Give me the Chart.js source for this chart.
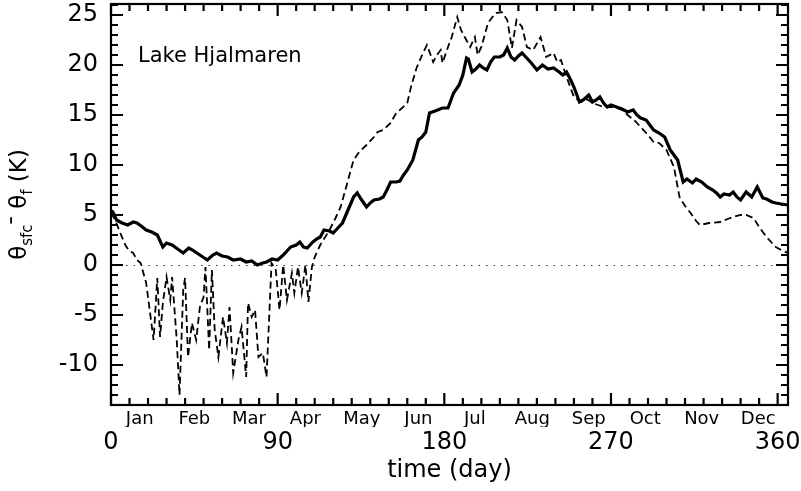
<!DOCTYPE html>
<html>
<head>
<meta charset="utf-8">
<script src="https://cdn.jsdelivr.net/npm/chart.js@4/dist/chart.umd.min.js"></script>
<style>
  html, body { margin: 0; padding: 0; background: #fff; }
  #wrap { width: 801px; height: 491px; position: relative; }
</style>
</head>
<body>
<div id="wrap"><canvas id="chart"></canvas></div>
<script>
const FONT = "'DejaVu Sans', sans-serif";

// surface minus freezing temperature (thick solid line)
const solidDays = [0, 1, 3, 6, 9, 12, 14, 17, 19, 22, 25, 28, 30, 33, 36, 39, 42, 44, 48, 52, 55, 57, 60, 63, 66, 70, 73, 76, 79, 82, 84, 87, 90, 93, 97, 100, 102, 104, 106, 109, 111, 113, 115, 118, 120, 123, 125, 128, 131, 133, 135, 138, 140, 142, 145, 147, 149, 151, 154, 156, 158, 160, 163, 166, 168, 170, 172, 175, 179, 182, 185, 188, 190, 192, 193, 195, 197, 199, 201, 203, 205, 207, 210, 212, 214, 216, 218, 220, 222, 224, 227, 230, 233, 236, 239, 242, 244, 246, 248, 250, 253, 255, 258, 260, 262, 264, 266, 268, 270, 273, 276, 279, 282, 284, 286, 289, 291, 293, 296, 299, 302, 304, 306, 309, 311, 314, 316, 319, 322, 325, 327, 329, 331, 334, 336, 338, 340, 343, 346, 349, 352, 354, 357, 359, 362, 365.6];
const solidVals = [5.4, 5.3, 4.5, 4.2, 4.0, 4.3, 4.2, 3.8, 3.5, 3.3, 3.0, 1.8, 2.2, 2.0, 1.6, 1.2, 1.7, 1.5, 1.0, 0.5, 1.0, 1.2, 0.9, 0.8, 0.5, 0.6, 0.3, 0.4, 0.0, 0.2, 0.3, 0.6, 0.5, 1.0, 1.8, 2.0, 2.3, 1.8, 1.7, 2.3, 2.6, 2.8, 3.5, 3.4, 3.2, 3.8, 4.2, 5.5, 6.8, 7.2, 6.6, 5.8, 6.2, 6.5, 6.6, 6.8, 7.5, 8.3, 8.3, 8.4, 9.0, 9.5, 10.5, 12.5, 12.8, 13.3, 15.2, 15.4, 15.7, 15.7, 17.2, 18.0, 19.0, 20.7, 20.6, 19.3, 19.6, 20.0, 19.7, 19.5, 20.3, 20.8, 20.8, 21.0, 21.7, 20.8, 20.5, 20.9, 21.2, 20.8, 20.2, 19.5, 20.0, 19.6, 19.7, 19.3, 19.0, 19.3, 18.6, 17.8, 16.3, 16.5, 17.0, 16.3, 16.5, 16.8, 16.2, 15.8, 16.0, 15.8, 15.6, 15.3, 15.5, 15.0, 14.7, 14.5, 14.0, 13.5, 13.2, 12.8, 11.5, 11.0, 10.5, 8.3, 8.6, 8.2, 8.6, 8.3, 7.8, 7.5, 7.2, 6.8, 7.1, 7.0, 7.3, 6.8, 6.5, 7.3, 6.8, 7.8, 6.7, 6.6, 6.3, 6.2, 6.1, 6.0];

// dashed line
const dashDays = [0, 2, 5, 8, 10, 12, 14, 16, 19, 23, 25, 26.5, 28, 30, 32, 33, 35.5, 37, 39, 40, 41.6, 43.7, 46, 48, 50, 51, 53, 54.5, 56, 58, 60.5, 62.6, 64, 66, 68.8, 70.5, 73, 74, 76, 77.8, 79.6, 82, 84, 86.7, 89, 91, 93, 95, 97.7, 99, 101, 103, 105, 106.6, 108.5, 110, 113, 118, 121, 124, 127, 131, 134, 138, 142, 144, 147, 151, 154, 156, 160, 162, 165, 168, 170.6, 174, 176, 178, 179, 182, 184, 187, 189, 191, 194, 196.5, 198, 200, 203.6, 206, 208, 211, 214, 216.5, 219, 222, 224.6, 228, 232, 235, 239, 241, 243, 246, 250, 254, 257, 260, 263, 266, 270, 273, 276, 279, 283, 286, 290, 293, 296, 300, 304, 307, 310, 313, 316, 318, 323, 329, 333, 336, 340, 343, 347, 350, 352, 354, 357, 359, 362, 365.6];
const dashVals = [5.2, 4.6, 3.2, 1.9, 1.4, 1.2, 0.5, 0.2, -1.8, -7.5, -1.3, -7.2, -3.8, -1.2, -3.5, -1.2, -7.5, -13.0, -2.5, -1.3, -9.2, -5.8, -7.5, -4.2, -3.2, -0.2, -8.5, -0.5, -6.5, -9.2, -5.2, -7.8, -4.2, -10.8, -7.5, -6.2, -11.2, -3.8, -5.2, -4.5, -9.2, -8.8, -11.2, 0.2, -0.5, -4.5, 0.0, -3.5, -0.8, -2.8, -0.2, -2.8, 0.0, -3.7, -0.2, 0.8, 2.0, 3.5, 4.6, 5.8, 7.8, 10.5, 11.3, 12.0, 12.8, 13.3, 13.5, 14.2, 15.2, 15.5, 16.2, 17.8, 19.7, 21.0, 22.0, 20.3, 21.0, 21.5, 20.2, 21.8, 22.8, 24.8, 23.5, 22.8, 21.8, 22.8, 21.0, 21.8, 24.2, 24.8, 25.2, 25.3, 24.5, 21.7, 24.5, 23.8, 21.8, 21.5, 22.8, 20.8, 21.2, 20.3, 20.5, 18.8, 16.8, 16.3, 16.6, 16.2, 16.0, 15.8, 15.8, 15.7, 15.5, 15.0, 14.4, 13.8, 13.0, 12.3, 12.2, 11.5, 9.8, 6.8, 5.9, 5.2, 4.4, 4.0, 4.2, 4.3, 4.6, 4.8, 5.0, 5.0, 4.7, 3.8, 3.3, 2.8, 2.2, 1.8, 1.5, 1.2];

const dayTicks = [0, 90, 180, 270, 360];
const monthNames = ["Jan", "Feb", "Mar", "Apr", "May", "Jun", "Jul", "Aug", "Sep", "Oct", "Nov", "Dec"];
const monthMidDays = [15.5, 45, 74.5, 105, 135.5, 166, 196.5, 227.5, 258, 288.5, 319, 349.5];
const yTicks = [-10, -5, 0, 5, 10, 15, 20, 25];

const toPoints = (xs, ys) => xs.map((d, i) => ({ x: d, y: ys[i] }));

// frame with inward ticks on all four sides, plus the annotation texts
const frame = {
  id: "frame",
  afterDraw(chart) {
    const { ctx, chartArea: a, scales: { x, y } } = chart;
    ctx.save();
    ctx.strokeStyle = "#000";
    ctx.lineWidth = 2.2;
    ctx.strokeRect(a.left, a.top, a.right - a.left, a.bottom - a.top);
    ctx.beginPath();
    for (let d = 0; d <= x.max; d += 10) {
      const px = x.getPixelForValue(d);
      const len = d % 90 === 0 ? 12 : 7;
      ctx.moveTo(px, a.bottom); ctx.lineTo(px, a.bottom - len);
      ctx.moveTo(px, a.top); ctx.lineTo(px, a.top + len);
    }
    for (let v = Math.ceil(y.min); v <= y.max; v++) {
      const py = y.getPixelForValue(v);
      const len = v % 5 === 0 ? 12 : 7;
      ctx.moveTo(a.left, py); ctx.lineTo(a.left + len, py);
      ctx.moveTo(a.right, py); ctx.lineTo(a.right - len, py);
    }
    ctx.stroke();

    ctx.fillStyle = "#000";
    ctx.textBaseline = "alphabetic";
    ctx.textAlign = "left";
    ctx.font = "21px " + FONT;
    ctx.fillText("Lake Hjalmaren", 138, 62);

    // rotated y title with subscripts
    const parts = [
      { t: "θ", size: 23, dy: 0 },
      { t: "sfc", size: 15, dy: 6 },
      { t: "-", size: 23, dy: -9 },
      { t: " θ", size: 23, dy: 0 },
      { t: "f", size: 15, dy: 6 },
      { t: " (K)", size: 23, dy: 0 },
    ];
    let total = 0;
    parts.forEach((p) => {
      ctx.font = p.size + "px " + FONT;
      p.w = ctx.measureText(p.t).width;
      total += p.w;
    });
    ctx.translate(26, (a.top + a.bottom) / 2);
    ctx.rotate(-Math.PI / 2);
    let cx = -total / 2;
    parts.forEach((p) => {
      ctx.font = p.size + "px " + FONT;
      ctx.fillText(p.t, cx, p.dy);
      cx += p.w;
    });
    ctx.restore();
  },
};

Chart.defaults.color = "#000";
Chart.defaults.font.family = FONT;

new Chart(document.getElementById("chart"), {
  type: "line",
  data: {
    datasets: [
      {
        data: toPoints(dashDays, dashVals),
        borderColor: "#000",
        borderWidth: 1.8,
        borderDash: [7, 4],
        pointRadius: 0,
        tension: 0,
      },
      {
        data: toPoints(solidDays, solidVals),
        borderColor: "#000",
        borderWidth: 3.2,
        pointRadius: 0,
        tension: 0,
      },
    ],
  },
  options: {
    responsive: true,
    maintainAspectRatio: false,
    animation: false,
    events: [],
    layout: { padding: { left: 0, right: 13, top: 4, bottom: 0 } },
    plugins: { legend: { display: false }, tooltip: { enabled: false } },
    scales: {
      x: {
        type: "linear",
        position: "bottom",
        weight: 1,
        min: 0,
        max: 365.6,
        afterBuildTicks: (s) => { s.ticks = dayTicks.map((v) => ({ value: v })); },
        ticks: { font: { size: 24 }, padding: 1, autoSkip: false, maxRotation: 0 },
        grid: { display: false, drawTicks: false },
        border: { display: false },
        title: { display: true, text: "time (day)", font: { size: 24 }, padding: { top: 0, bottom: 6 } },
        afterFit: (s) => { s.height = 64; s.paddingLeft = 0; s.paddingRight = 0; },
      },
      month: {
        type: "linear",
        position: "bottom",
        weight: 0,
        min: 0,
        max: 365.6,
        afterBuildTicks: (s) => { s.ticks = monthMidDays.map((v) => ({ value: v })); },
        ticks: {
          font: { size: 18 },
          padding: 4,
          autoSkip: false,
          maxRotation: 0,
          callback: (v, i) => monthNames[i],
        },
        grid: { display: false, drawTicks: false },
        border: { display: false },
        afterFit: (s) => { s.height = 22; s.paddingLeft = 0; s.paddingRight = 0; },
      },
      y: {
        type: "linear",
        min: -14,
        max: 26.1,
        afterBuildTicks: (s) => { s.ticks = yTicks.map((v) => ({ value: v })); },
        ticks: { font: { size: 24 }, padding: 13, autoSkip: false },
        grid: {
          drawTicks: false,
          lineWidth: 1,
          color: (c) => (c.tick && c.tick.value === 0 ? "#333" : "rgba(0,0,0,0)"),
        },
        border: { display: false, dash: [1.5, 6] },
        afterFit: (s) => { s.width = 111; s.paddingTop = 0; s.paddingBottom = 0; },
      },
    },
  },
  plugins: [frame],
});
</script>
</body>
</html>
